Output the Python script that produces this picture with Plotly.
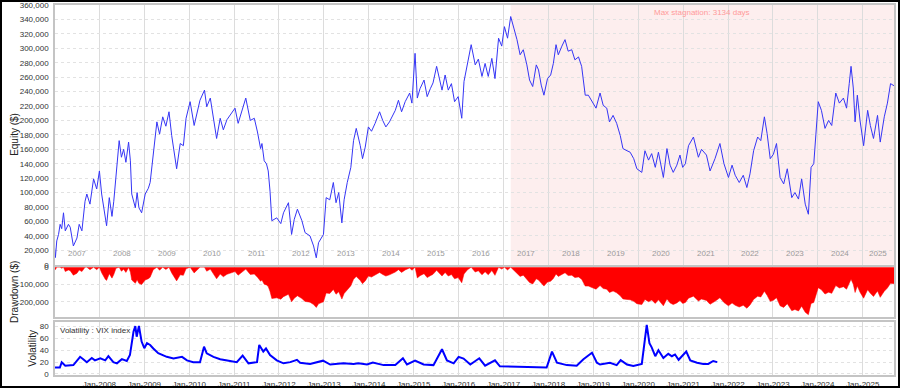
import numpy as np
import pandas as pd
import plotly.graph_objects as go

# ---------------- data ----------------
# equity: time in years since 2007-01-01, value in $
eq_t = [0.00, 0.02, 0.05, 0.09, 0.125, 0.16, 0.20, 0.24, 0.31, 0.35, 0.42, 0.50, 0.55, 0.61, 0.68, 0.72,
        0.79, 0.87, 0.94, 1.00, 1.05, 1.13, 1.16, 1.22, 1.28, 1.32, 1.37, 1.44, 1.49, 1.54, 1.59, 1.65,
        1.69, 1.72, 1.80, 1.84, 1.88, 1.94, 2.02, 2.09, 2.13, 2.20, 2.28, 2.34, 2.41, 2.48, 2.55, 2.61,
        2.66, 2.72, 2.80, 2.87, 2.93, 3.02, 3.11, 3.17, 3.24, 3.34, 3.39, 3.47, 3.54, 3.61, 3.69, 3.76,
        3.84, 3.95, 4.02, 4.09, 4.17, 4.26, 4.36, 4.45, 4.52, 4.59, 4.62, 4.67, 4.72, 4.76, 4.80, 4.84,
        4.95, 5.04, 5.10, 5.21, 5.28, 5.34, 5.41, 5.51, 5.58, 5.69, 5.77, 5.83, 5.88, 5.99, 6.05, 6.13,
        6.21, 6.27, 6.33, 6.40, 6.45, 6.52, 6.60, 6.66, 6.72, 6.81, 6.86, 6.92, 6.99, 7.06, 7.14, 7.24,
        7.31, 7.38, 7.46, 7.59, 7.66, 7.73, 7.81, 7.91, 7.96, 8.03, 8.08, 8.14, 8.23, 8.30, 8.37, 8.43,
        8.51, 8.63, 8.70, 8.77, 8.84, 8.91, 8.99, 9.07, 9.12, 9.20, 9.28, 9.37, 9.44, 9.52, 9.59, 9.66,
        9.74, 9.81, 9.89, 9.96, 10.02, 10.09, 10.16, 10.23, 10.30, 10.37, 10.44, 10.52, 10.58, 10.65, 10.73, 10.78,
        10.84, 10.90, 10.98, 11.05, 11.11, 11.17, 11.22, 11.30, 11.37, 11.44, 11.52, 11.59, 11.67, 11.74, 11.82, 11.89,
        11.97, 12.06, 12.15, 12.22, 12.30, 12.36, 12.44, 12.52, 12.60, 12.66, 12.75, 12.82, 12.90, 12.97, 13.08, 13.15,
        13.23, 13.30, 13.38, 13.45, 13.56, 13.64, 13.71, 13.78, 13.86, 13.93, 13.99, 14.05, 14.12, 14.23, 14.34, 14.41,
        14.52, 14.60, 14.71, 14.82, 14.91, 15.01, 15.09, 15.16, 15.25, 15.34, 15.42, 15.49, 15.57, 15.66, 15.73, 15.81,
        15.87, 15.94, 16.01, 16.08, 16.16, 16.24, 16.32, 16.42, 16.49, 16.57, 16.64, 16.72, 16.79, 16.85, 16.91, 16.96,
        17.01, 17.08, 17.16, 17.24, 17.31, 17.40, 17.48, 17.57, 17.64, 17.70, 17.74, 17.79, 17.83, 17.88, 17.94, 18.02,
        18.11, 18.17, 18.24, 18.33, 18.39, 18.48, 18.55, 18.62, 18.70]
eq_val = [24000, 10000, 33000, 42000, 56000, 50000, 72000, 47000, 56000, 52000, 26000, 37000, 56000, 47000, 88000, 98000,
          84000, 119000, 105000, 130000, 98000, 61000, 54000, 93000, 67000, 88000, 124000, 172000, 149000, 160000, 142000, 170000,
          144000, 98000, 79000, 100000, 79000, 72000, 98000, 106000, 114000, 158000, 198000, 181000, 205000, 192000, 212000, 179000,
          158000, 133000, 168000, 165000, 203000, 226000, 193000, 209000, 228000, 242000, 219000, 231000, 201000, 175000, 203000, 187000,
          201000, 210000, 217000, 196000, 214000, 231000, 200000, 203000, 184000, 161000, 168000, 144000, 140000, 130000, 102000, 61000,
          65000, 57000, 72000, 86000, 42000, 63000, 77000, 61000, 44500, 40000, 26000, 9600, 30500, 42000, 93000, 90000,
          114000, 86000, 100000, 58000, 90000, 114000, 135000, 172000, 189000, 165000, 147000, 163000, 191000, 185000, 196000, 212000,
          200000, 191000, 198000, 214000, 228000, 212000, 226000, 238000, 224000, 293000, 231000, 244000, 256000, 233000, 244000, 252000,
          275000, 242000, 263000, 242000, 251000, 226000, 233000, 203000, 254000, 279000, 305000, 277000, 285000, 261000, 279000, 261000,
          286000, 258000, 314000, 303000, 330000, 314000, 344000, 328000, 312000, 291000, 298000, 277000, 256000, 247000, 277000, 270000,
          249000, 235000, 258000, 263000, 279000, 305000, 291000, 303000, 312000, 296000, 298000, 284000, 288000, 275000, 235000, 235000,
          226000, 217000, 238000, 221000, 217000, 198000, 207000, 196000, 179000, 161000, 158000, 156000, 147000, 133000, 128000, 158000,
          145000, 154000, 135000, 156000, 121000, 161000, 138000, 128000, 138000, 152000, 135000, 140000, 165000, 177000, 149000, 160000,
          152000, 130000, 147000, 168000, 140000, 121000, 138000, 124000, 114000, 124000, 107000, 126000, 158000, 177000, 172000, 205000,
          182000, 147000, 153000, 168000, 121000, 112000, 133000, 93000, 100000, 91000, 119000, 84000, 70000, 135000, 140000, 182000,
          226000, 214000, 189000, 200000, 193000, 238000, 224000, 231000, 217000, 251000, 275000, 245000, 198000, 235000, 200000, 165000,
          214000, 193000, 175000, 207000, 170000, 205000, 224000, 251000, 248000]

# volatility (VIX index): time in years since 2007-01-01, index value
vix_t = [0.01, 0.12, 0.16, 0.24, 0.42, 0.57, 0.64, 0.72, 0.83, 0.90, 1.02, 1.13, 1.20, 1.31, 1.39, 1.50,
         1.61, 1.68, 1.76, 1.80, 1.83, 1.88, 1.94, 2.00, 2.06, 2.13, 2.20, 2.31, 2.50, 2.65, 2.84, 2.95,
         3.09, 3.24, 3.33, 3.39, 3.54, 3.69, 3.91, 4.06, 4.19, 4.32, 4.51, 4.56, 4.65, 4.71, 4.80, 4.95,
         5.10, 5.25, 5.40, 5.47, 5.69, 5.98, 6.14, 6.43, 6.66, 6.77, 6.96, 7.09, 7.33, 7.59, 7.76, 7.85,
         8.03, 8.22, 8.44, 8.63, 8.74, 8.89, 9.00, 9.11, 9.26, 9.46, 9.59, 9.81, 9.92, 10.30, 10.67, 10.96,
         11.08, 11.19, 11.41, 11.63, 11.78, 11.97, 12.08, 12.15, 12.37, 12.52, 12.61, 12.75, 12.89, 13.08, 13.19, 13.25,
         13.30, 13.38, 13.45, 13.56, 13.67, 13.75, 13.82, 13.90, 14.07, 14.16, 14.31, 14.45, 14.56, 14.67, 14.76]
vix_val = [11, 11, 19.8, 14, 15, 29, 25, 20, 27, 23, 26.5, 23, 30, 20, 18, 25,
           22, 32, 71.6, 81, 63, 81, 54.7, 43.5, 52, 49, 43, 35, 29, 26, 29, 23,
           20, 20, 46, 35, 29, 25, 22, 20, 31, 18, 20, 49, 38, 43, 32, 23,
           18, 20, 24, 19, 17, 22.5, 16, 18, 17, 18, 16, 19.5, 15, 15, 26.5, 16,
           22.5, 16, 15, 41.8, 23, 18, 29, 26, 16, 26.5, 14, 23, 13, 12, 10.5, 11,
           37.8, 19, 15, 14, 25, 36, 19, 16, 19, 15, 23.5, 16, 13.5, 17, 83, 52,
           45, 30, 40, 27, 34, 30, 33, 24, 37.8, 23, 19, 17, 17, 22, 20]

max_stagnation_days = 3134
year_labels = [str(y) for y in range(2007, 2026)]
eq_ticks = list(range(0, 360001, 20000))
dd_tickvals = [0, -100000, -200000]
dd_ticktext = ['0', '-100,000', '-200,000']
vol_ticks = [0, 20, 40, 60, 80]

# ---------------- derived ----------------
base = pd.Timestamp('2007-01-01')
eq_dates = base + pd.to_timedelta(np.array(eq_t) * 365.25, unit='D')
vix_dates = base + pd.to_timedelta(np.array(vix_t) * 365.25, unit='D')
eq = np.array(eq_val, dtype=float)
drawdown = eq - np.maximum.accumulate(eq)

x_start = pd.Timestamp('2007-01-05')
x_end = pd.Timestamp('2025-09-12')

peak_date = eq_dates[int(np.argmax(eq))]
stag_end = min(peak_date + pd.Timedelta(days=max_stagnation_days), x_end)

# ---------------- figure ----------------
fig = go.Figure()
fig.add_trace(go.Scatter(x=eq_dates, y=eq, mode='lines', line=dict(color='#3535f5', width=1),
                         xaxis='x', yaxis='y', showlegend=False, hoverinfo='skip'))
fig.add_trace(go.Scatter(x=eq_dates, y=drawdown, mode='lines', fill='tozeroy', fillcolor='#ff0000',
                         line=dict(color='#ff0000', width=0.5), xaxis='x2', yaxis='y2',
                         showlegend=False, hoverinfo='skip'))
fig.add_trace(go.Scatter(x=vix_dates, y=vix_val, mode='lines', line=dict(color='#0000ff', width=2),
                         xaxis='x3', yaxis='y3', showlegend=False, hoverinfo='skip'))

font_family = 'Liberation Sans, Arial, sans-serif'
tick_font = dict(family=font_family, size=8, color='#333333')
grid_v = '#dcdcdc'
frame = '#c4c4c4'

common_x = dict(range=[x_start, x_end], type='date', showgrid=True, gridcolor=grid_v, gridwidth=1.2,
                tick0='2008-01-01', dtick='M12', showline=True, mirror=True, linecolor=frame,
                linewidth=1.5, zeroline=False, ticks='', automargin=False)

common_y = dict(showgrid=True, gridcolor='#e2e2e2', griddash='dot', showline=True, mirror=True,
                linecolor=frame, linewidth=1.5, zeroline=False, ticklabelstandoff=3,
                tickfont=tick_font, automargin=False, ticks='')

fig.update_layout(
    width=900, height=388,
    margin=dict(l=55, r=6, t=5, b=13, autoexpand=False),
    paper_bgcolor='white', plot_bgcolor='white',
    font=dict(family=font_family),
    xaxis=dict(**common_x, domain=[0, 1], anchor='y', showticklabels=False),
    xaxis2=dict(**common_x, domain=[0, 1], anchor='y2', showticklabels=False, matches='x'),
    xaxis3=dict(**common_x, domain=[0, 1], anchor='y3', showticklabels=True, matches='x',
                tickformat='%b-%Y', tickfont=tick_font, ticklabelstandoff=1),
    yaxis=dict(**common_y, domain=[0.298, 1.0], range=[0, 360000], tickvals=eq_ticks,
               tickformat=',d', anchor='x'),
    yaxis2=dict(**common_y, domain=[0.157, 0.292], range=[-287000, 1500], tickvals=dd_tickvals,
                ticktext=dd_ticktext, anchor='x2'),
    yaxis3=dict(**common_y, domain=[0.0, 0.142], range=[-1.7, 87], tickvals=vol_ticks, anchor='x3'),
)

# stagnation shading (equity panel only)
fig.add_shape(type='rect', xref='x', yref='y domain', x0=peak_date, x1=stag_end, y0=0, y1=1,
              fillcolor='#fdeeee', line=dict(width=0), layer='below')

annotations = []
annotations.append(dict(xref='x', yref='y domain',
                        x=peak_date + (stag_end - peak_date) / 2, y=0.995,
                        text='Max stagnation: %d days' % max_stagnation_days, showarrow=False,
                        yanchor='top', font=dict(family=font_family, size=8, color='#ff9a9a')))

# year labels inside equity panel
for lab in year_labels:
    y0 = max(pd.Timestamp(lab + '-01-01'), x_start)
    y1 = min(pd.Timestamp(str(int(lab) + 1) + '-01-01'), x_end)
    annotations.append(dict(xref='x', yref='y domain', x=y0 + (y1 - y0) / 2, y=0.045, text=lab,
                            showarrow=False, yanchor='middle',
                            font=dict(family=font_family, size=8, color='#9a9a9a')))

# legend text inside volatility panel
annotations.append(dict(xref='x3 domain', yref='y3 domain', x=0.004, y=0.97, text='Volatility : VIX index',
                        showarrow=False, xanchor='left', yanchor='top',
                        font=dict(family=font_family, size=8, color='#333333')))

# axis titles
annotations.append(dict(xref='paper', yref='y domain', x=-40 / 839, y=0.5, text='Equity ($)',
                        textangle=-90, showarrow=False, xanchor='center', yanchor='middle',
                        font=dict(family=font_family, size=10, color='#222222')))
annotations.append(dict(xref='paper', yref='y2 domain', x=-40 / 839, y=0.5, text='Drawdown ($)',
                        textangle=-90, showarrow=False, xanchor='center', yanchor='middle',
                        font=dict(family=font_family, size=10, color='#222222')))
annotations.append(dict(xref='paper', yref='y3 domain', x=-22 / 839, y=0.5, text='Volatility',
                        textangle=-90, showarrow=False, xanchor='center', yanchor='middle',
                        font=dict(family=font_family, size=10, color='#222222')))
fig.update_layout(annotations=annotations)

# outer black frame around the whole image
fig.add_shape(type='rect', xref='paper', yref='paper', x0=-54 / 839, x1=1 + 5 / 839,
              y0=-12 / 370, y1=1 + 4 / 370, line=dict(color='black', width=2),
              fillcolor='rgba(0,0,0,0)', layer='above')

fig.write_html('out.html', config={'displayModeBar': False},
               post_script="document.body.style.margin='0';document.body.style.padding='0';"
                           "document.body.style.overflow='hidden';")
